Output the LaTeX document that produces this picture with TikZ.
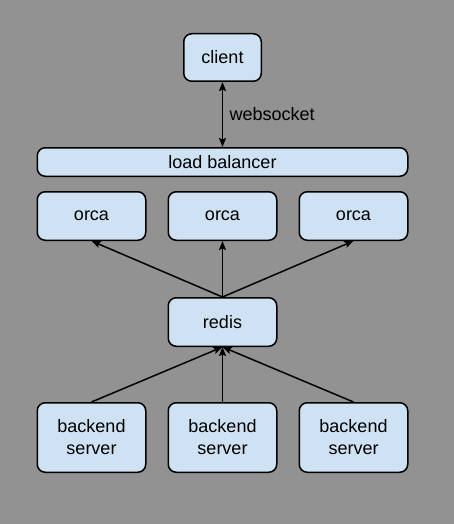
\documentclass[tikz,border=0pt]{standalone}
\usepackage{fontspec}
\setmainfont{Liberation Sans}
\usetikzlibrary{positioning, arrows.meta}
\definecolor{bggray}{HTML}{929292}
\definecolor{boxblue}{HTML}{CFE2F3}
\begin{document}
\begin{tikzpicture}[
    x=1pt, y=1pt,
    node distance=21pt,
    font=\fontsize{18}{22}\selectfont,
    box/.style={rectangle, draw, fill=boxblue, line width=1.5pt, rounded corners=8pt, minimum width=108.5pt, minimum height=48.5pt, align=center},
    wide/.style={box, minimum width=370.5pt, minimum height=28.5pt},
    server/.style={box, minimum height=69.5pt},
    linklabel/.style={right, xshift=3pt},
    arrow/.style={->, >={Stealth[length=9pt, width=7pt, inset=1.5pt]}, line width=1.5pt}
]

% Background
\fill[bggray] (0,0) rectangle (454,-524);

% Client and load balancer
\node[box, minimum width=77.5pt, minimum height=47.5pt] (client) at (222.5,-57.5) {client};
\node[wide, below=65pt of client] (balancer) {load balancer};

% Orca instances
\node[box, below=14pt of balancer] (orca2) {orca};
\node[box, left=of orca2] (orca1) {orca};
\node[box, right=of orca2] (orca3) {orca};

% Redis
\node[box, below=56pt of orca2] (redis) {redis};

% Backend servers
\node[server, below=55pt of redis] (backend2) {backend\\server};
\node[server, left=of backend2] (backend1) {backend\\server};
\node[server, right=of backend2] (backend3) {backend\\server};

% Connections
\draw[arrow, <->] (client) -- node[linklabel] {websocket} (balancer);

\draw[arrow] (redis.north) -- (orca1.south);
\draw[arrow] (redis.north) -- (orca2.south);
\draw[arrow] (redis.north) -- (orca3.south);

\draw[arrow] (backend1.north) -- (redis.south);
\draw[arrow] (backend2.north) -- (redis.south);
\draw[arrow] (backend3.north) -- (redis.south);

\end{tikzpicture}
\end{document}
